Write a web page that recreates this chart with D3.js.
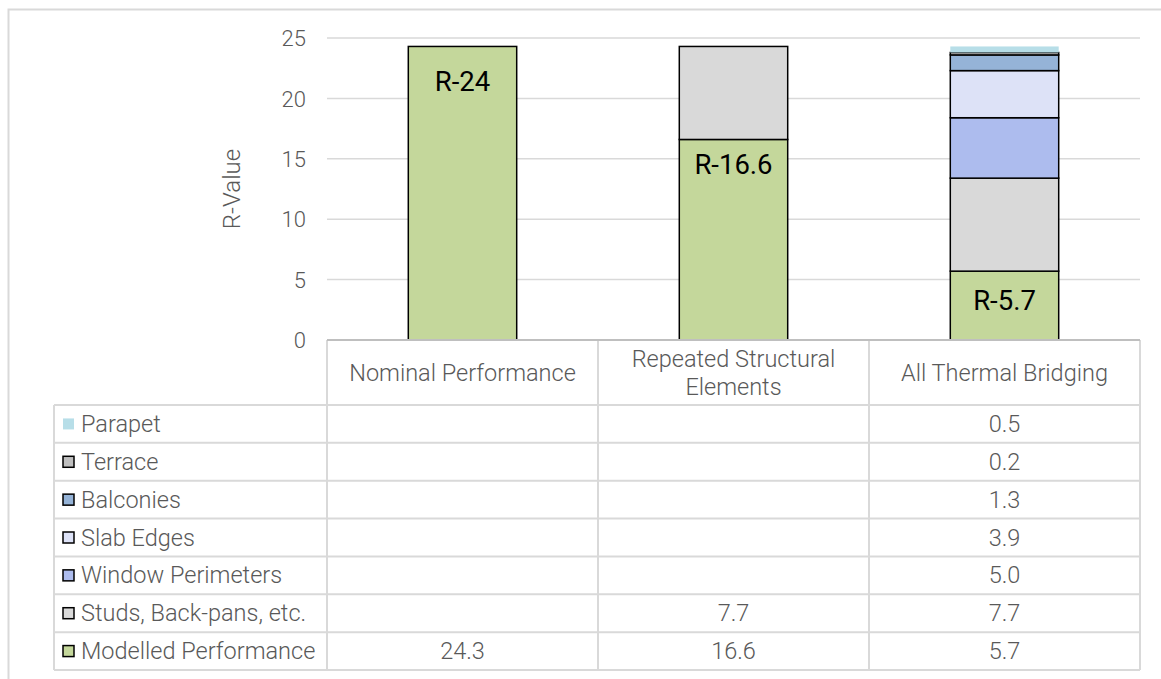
<!DOCTYPE html>
<html><head><meta charset="utf-8">
<script src="https://cdn.jsdelivr.net/npm/d3@7"></script>
<style>
body{margin:0;background:#fff;}
svg text{font-family:Roboto,"Open Sans",sans-serif;}
</style></head>
<body><svg id="c" width="1161" height="679"></svg>
<script>
const categories = ["Nominal Performance", "Repeated Structural Elements", "All Thermal Bridging"];
const categoryLines = [["Nominal Performance"], ["Repeated Structural", "Elements"], ["All Thermal Bridging"]];
const seriesNames = ["Modelled Performance", "Studs, Back-pans, etc.", "Window Perimeters", "Slab Edges", "Balconies", "Terrace", "Parapet"];
const seriesColors = ["#c4d79b", "#d9d9d9", "#adbcee", "#dde2f7", "#95b3d7", "#bfbfbf", "#b7dee8"];
const seriesBorder = [true, true, true, true, true, true, false];
const modelled = [24.3, 16.6, 5.7];
const studs = [null, 7.7, 7.7];
const windowPerim = [null, null, 5.0];
const slabEdges = [null, null, 3.9];
const balconies = [null, null, 1.3];
const terrace = [null, null, 0.2];
const parapet = [null, null, 0.5];
const barLabels = ["R-24", "R-16.6", "R-5.7"];
const yTicks = [0, 5, 10, 15, 20, 25];

const seriesValues = [modelled, studs, windowPerim, slabEdges, balconies, terrace, parapet];
const labelOffsets = [45, 34.5, 39]; // px below top of modelled segment (layout)
const svg = d3.select("#c");

// outer border
svg.append("path").attr("d","M8.5,679 L8.5,9.5 L1161,9.5").attr("fill","none").attr("stroke","#d9d9d9").attr("stroke-width",2);

const plotL = 327, plotR = 1140;
const y = d3.scaleLinear().domain([0, 25]).range([340, 38]);
const x = d3.scaleBand().domain(categories).range([plotL, plotR]).paddingInner(0).paddingOuter(0);
const barW = x.bandwidth() * 0.4;
const txtCol = "#595959";

// gridlines
svg.append("g").selectAll("line").data(yTicks.filter(t=>t>0)).join("line")
  .attr("x1", plotL).attr("x2", plotR).attr("y1", d=>y(d)).attr("y2", d=>y(d))
  .attr("stroke", "#d9d9d9").attr("stroke-width", 1.5);

// y axis labels via d3 axis
const yAxis = svg.append("g").attr("transform", `translate(${plotL - 21},0)`)
  .call(d3.axisLeft(y).tickValues(yTicks).tickSize(0).tickPadding(0));
yAxis.select(".domain").remove();
yAxis.selectAll("text").attr("font-size", 22).attr("fill", txtCol).attr("font-weight", 300).attr("x", 0).attr("dy", "0.35em");

svg.append("text").attr("transform", `translate(240,189) rotate(-90)`)
  .attr("text-anchor", "middle").attr("font-size", 24).attr("fill", txtCol).attr("font-weight", 300).text("R-Value");

// stacked bars
const data = categories.map((c, i) => {
  const o = {cat: c};
  seriesNames.forEach((s, j) => o[s] = seriesValues[j][i] || 0);
  return o;
});
const stack = d3.stack().keys(seriesNames)(data);
stack.forEach((layer, j) => {
  svg.append("g").selectAll("rect").data(layer.filter(d => d[1] - d[0] > 0)).join("rect")
    .attr("x", d => x(d.data.cat) + (x.bandwidth() - barW) / 2)
    .attr("width", barW)
    .attr("y", d => y(d[1]))
    .attr("height", d => y(d[0]) - y(d[1]))
    .attr("fill", seriesColors[j])
    .attr("stroke", seriesBorder[j] ? "#000" : "none")
    .attr("stroke-width", 1.5);
});

// bar labels
svg.append("g").selectAll("text").data(categories).join("text")
  .attr("x", c => x(c) + x.bandwidth() / 2)
  .attr("y", (c, i) => y(modelled[i]) + labelOffsets[i])
  .attr("text-anchor", "middle").attr("font-size", 27.5).attr("fill", "#000")
  .text((c, i) => barLabels[i]);

// table
const tblTop = 340, hdrBottom = 405, rowH = (670 - 405) / 7, legL = 54;
const line = (x1, y1, x2, y2) => svg.append("line").attr("x1", x1).attr("y1", y1).attr("x2", x2).attr("y2", y2)
  .attr("stroke", "#d9d9d9").attr("stroke-width", 2);
[plotL, x(categories[1]), x(categories[2]), plotR].forEach(xx => line(xx, tblTop, xx, 670));
line(legL, hdrBottom, legL, 670);
line(plotL, tblTop, plotR, tblTop).attr("stroke", "#bfbfbf");
for (let r = 0; r <= 7; r++) line(legL, hdrBottom + r * rowH, plotR, hdrBottom + r * rowH);

// header text
categories.forEach((c, i) => {
  const lines = categoryLines[i];
  const cy = (tblTop + hdrBottom) / 2;
  lines.forEach((t, k) => {
    svg.append("text").attr("x", x(c) + x.bandwidth() / 2)
      .attr("y", cy + 8 + (k - (lines.length - 1) / 2) * 28)
      .attr("text-anchor", "middle").attr("font-size", 23.5).attr("fill", txtCol).attr("font-weight", 300).text(t);
  });
});

// rows: top row = last series
const rowOrder = seriesNames.map((s, j) => j).reverse();
rowOrder.forEach((j, r) => {
  const cy = hdrBottom + r * rowH + rowH / 2;
  const g = svg.append("g");
  g.append("rect").attr("x", 63).attr("y", cy - 5.5).attr("width", 11).attr("height", 11)
    .attr("fill", seriesColors[j]).attr("stroke", seriesBorder[j] ? "#000" : "none").attr("stroke-width", 1.5);
  g.append("text").attr("x", 81).attr("y", cy + 8).attr("font-size", 23.5).attr("fill", txtCol).attr("font-weight", 300).text(seriesNames[j]);
  categories.forEach((c, i) => {
    const v = seriesValues[j][i];
    if (v != null) {
      g.append("text").attr("x", x(c) + x.bandwidth() / 2).attr("y", cy + 8)
        .attr("text-anchor", "middle").attr("font-size", 23.5).attr("fill", txtCol).attr("font-weight", 300)
        .text(d3.format(".1f")(v));
    }
  });
});
</script></body></html>
